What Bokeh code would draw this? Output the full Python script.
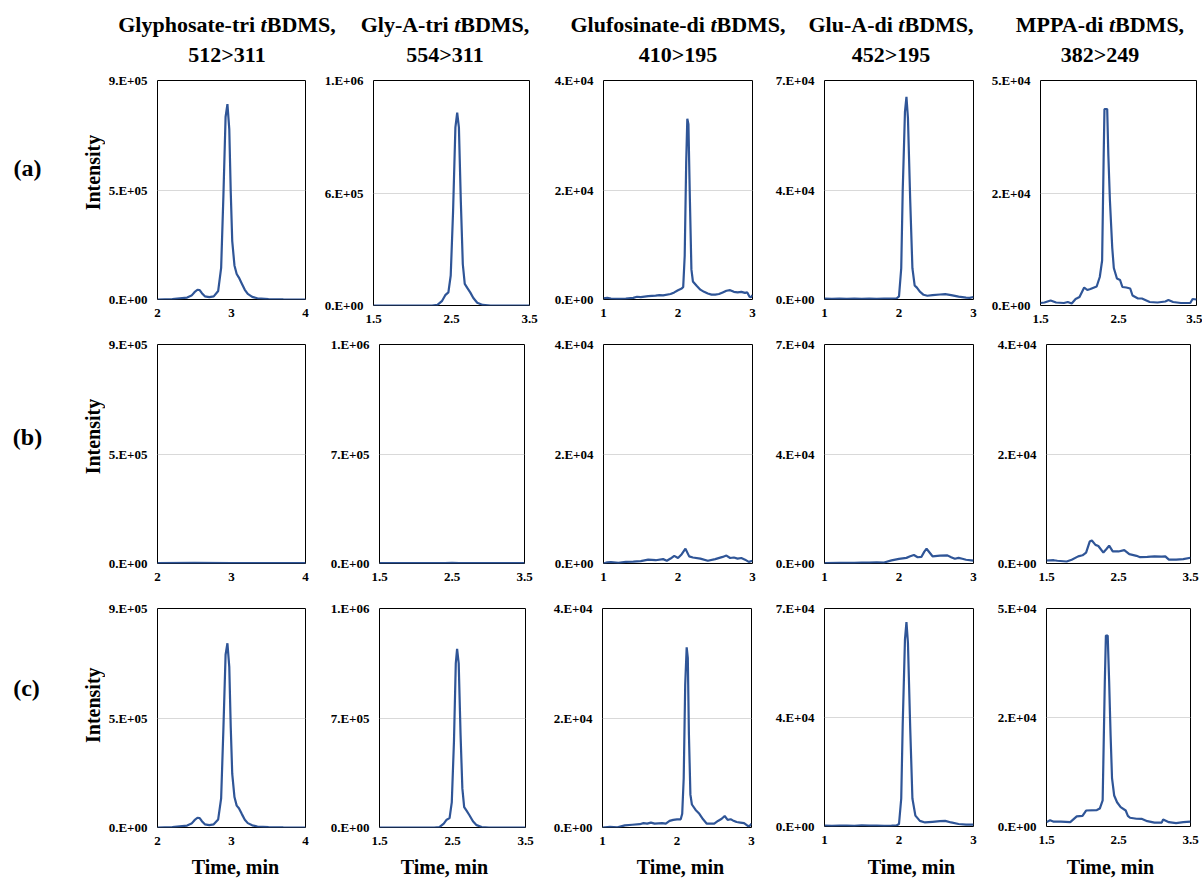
import math
from bokeh.plotting import figure
from bokeh.models import FixedTicker, Label, Div
from bokeh.layouts import column, row
from bokeh.embed import file_html
from bokeh.resources import INLINE

FONT = "Liberation Serif"
LINE = "#2f5597"

# ---------------- data ----------------
compound_names = ["Glyphosate-tri", "Gly-A-tri", "Glufosinate-di", "Glu-A-di", "MPPA-di"]
transitions = ["512>311", "554>311", "410>195", "452>195", "382>249"]
row_names = ["(a)", "(b)", "(c)"]
y_title = "Intensity"
x_title = "Time, min"
x_ticks = [[2, 3, 4], [1.5, 2.5, 3.5], [1, 2, 3], [1, 2, 3], [1.5, 2.5, 3.5]]
y_max = [[9e5, 1.2e6, 4e4, 7e4, 4.5e4],
         [9e5, 1.4e6, 4e4, 7e4, 4e4],
         [9e5, 1.4e6, 4e4, 7e4, 4.5e4]]
y_labels = [
    [["0.E+00", "5.E+05", "9.E+05"], ["0.E+00", "6.E+05", "1.E+06"], ["0.E+00", "2.E+04", "4.E+04"],
     ["0.E+00", "4.E+04", "7.E+04"], ["0.E+00", "2.E+04", "5.E+04"]],
    [["0.E+00", "5.E+05", "9.E+05"], ["0.E+00", "7.E+05", "1.E+06"], ["0.E+00", "2.E+04", "4.E+04"],
     ["0.E+00", "4.E+04", "7.E+04"], ["0.E+00", "2.E+04", "4.E+04"]],
    [["0.E+00", "5.E+05", "9.E+05"], ["0.E+00", "7.E+05", "1.E+06"], ["0.E+00", "2.E+04", "4.E+04"],
     ["0.E+00", "4.E+04", "7.E+04"], ["0.E+00", "2.E+04", "5.E+04"]],
]

# Row (a)
t_a1 = [2.0, 2.2, 2.4, 2.46, 2.5, 2.54, 2.57, 2.6, 2.64, 2.7, 2.76, 2.82, 2.86, 2.89, 2.92, 2.945, 2.97, 2.99,
        3.01, 3.04, 3.07, 3.1, 3.14, 3.18, 3.22, 3.28, 3.35, 3.5, 3.7, 4.0]
i_a1 = [0, 2e3, 8e3, 1.6e4, 3.0e4, 4.0e4, 3.9e4, 2.6e4, 1.3e4, 1.0e4, 1.3e4, 3.5e4, 1.3e5, 4.2e5, 7.5e5, 8.03e5, 7.0e5,
        4.4e5, 2.4e5, 1.4e5, 1.05e5, 9.0e4, 6.5e4, 4.0e4, 2.3e4, 1.1e4, 5e3, 1.5e3, 5e2, 0]
t_a2 = [1.5, 2.0, 2.25, 2.32, 2.38, 2.42, 2.46, 2.49, 2.52, 2.55, 2.573, 2.595, 2.62, 2.645, 2.67, 2.7, 2.74,
        2.78, 2.83, 2.9, 3.0, 3.5]
i_a2 = [0, 0, 0, 3e3, 2.5e4, 5.5e4, 7.0e4, 1.6e5, 5.0e5, 9.5e5, 1.028e6, 9.5e5, 5.5e5, 2.2e5, 1.15e5, 9.5e4, 7.0e4,
        4.0e4, 1.5e4, 3e3, 0, 0]
t_a3 = [1.0, 1.05, 1.1, 1.2, 1.3, 1.4, 1.45, 1.5, 1.6, 1.7, 1.75, 1.8, 1.9, 1.95, 2.0, 2.05, 2.07, 2.09, 2.11,
        2.125, 2.14, 2.16, 2.18, 2.2, 2.25, 2.3, 2.35, 2.4, 2.45, 2.5, 2.55, 2.6, 2.65, 2.7, 2.75, 2.8, 2.85,
        2.9, 2.93, 2.96, 2.98, 3.0]
i_a3 = [200, 300, 150, 100, 150, 300, 500, 450, 600, 700, 800, 750, 1000, 1300, 1700, 2000, 2300, 8000, 25000,
        33000, 32000, 18000, 5500, 3300, 2500, 1800, 1400, 1100, 900, 900, 1000, 1300, 1600, 1700, 1400, 1300,
        1400, 1200, 1300, 500, 400, 800]
t_a4 = [1.0, 1.1, 1.2, 1.3, 1.4, 1.5, 1.6, 1.7, 1.8, 1.9, 1.97, 2.0, 2.03, 2.05, 2.08, 2.1, 2.12, 2.15, 2.18,
        2.21, 2.24, 2.28, 2.33, 2.38, 2.45, 2.55, 2.62, 2.7, 2.8, 2.9, 2.95, 3.0]
i_a4 = [300, 200, 300, 200, 300, 200, 300, 200, 300, 300, 400, 1000, 10000, 35000, 60000, 64800, 58000, 32000,
        10000, 4500, 3800, 2500, 1500, 1200, 1400, 1600, 1700, 1400, 900, 600, 500, 800]
t_a5 = [1.5, 1.55, 1.63, 1.7, 1.8, 1.85, 1.9, 1.95, 2.0, 2.06, 2.1, 2.14, 2.22, 2.26, 2.29, 2.31, 2.32, 2.355,
        2.37, 2.39, 2.42, 2.44, 2.48, 2.52, 2.55, 2.6, 2.65, 2.68, 2.75, 2.8, 2.9, 3.0, 3.1, 3.14, 3.2, 3.3, 3.42,
        3.45, 3.5]
i_a5 = [500, 600, 1000, 600, 500, 700, 400, 1300, 1700, 3600, 3100, 3300, 3800, 5700, 9000, 30000, 39300,
        39300, 30000, 21000, 11500, 7500, 5400, 5100, 3700, 3600, 3400, 2000, 1400, 1400, 700, 600, 800, 1100, 700,
        500, 500, 1300, 1200]

# Row (b)
t_b1 = [2.0, 2.5, 3.0, 3.5, 4.0]
i_b1 = [1500, 2500, 2000, 1500, 1500]
t_b2 = [1.5, 2.0, 2.4, 2.5, 2.6, 3.0, 3.5]
i_b2 = [2000, 2000, 2500, 4000, 2500, 2000, 2000]
t_b3 = [1.0, 1.05, 1.1, 1.2, 1.3, 1.4, 1.5, 1.6, 1.7, 1.8, 1.85, 1.9, 1.95, 2.0, 2.05, 2.1, 2.15, 2.2, 2.3,
        2.4, 2.5, 2.6, 2.65, 2.7, 2.75, 2.8, 2.85, 2.9, 2.95, 3.0]
i_b3 = [0, 200, 250, 100, 300, 350, 420, 700, 600, 800, 500, 900, 1400, 1000, 1700, 2700, 1300, 1100, 900, 500,
        800, 1200, 1450, 1000, 1100, 900, 1000, 700, 300, 500]
t_b4 = [1.0, 1.2, 1.4, 1.5, 1.6, 1.7, 1.8, 1.9, 2.0, 2.1, 2.15, 2.2, 2.25, 2.3, 2.34, 2.37, 2.41, 2.45, 2.55,
        2.65, 2.7, 2.75, 2.8, 2.85, 2.9, 3.0]
i_b4 = [100, 200, 200, 300, 300, 400, 300, 1000, 1500, 1800, 2300, 2700, 2000, 2100, 3800, 4700, 3500, 2300,
        2500, 2600, 2000, 1500, 1800, 1500, 1200, 900]
t_b5 = [1.5, 1.6, 1.65, 1.78, 1.85, 1.94, 2.0, 2.05, 2.1, 2.13, 2.18, 2.22, 2.29, 2.33, 2.37, 2.42, 2.5, 2.58,
        2.65, 2.75, 2.8, 2.9, 3.0, 3.1, 3.15, 3.2, 3.3, 3.4, 3.5]
i_b5 = [550, 600, 500, 370, 700, 1300, 1500, 2000, 4000, 4200, 3400, 3200, 2000, 2600, 3250, 2200, 2200, 2450,
        1700, 1400, 1150, 1200, 1300, 1250, 1300, 700, 700, 800, 1050]

# Row (c)
t_c1 = [2.0, 2.2, 2.4, 2.46, 2.5, 2.54, 2.57, 2.6, 2.64, 2.7, 2.76, 2.82, 2.86, 2.89, 2.92, 2.945, 2.97, 2.99,
        3.01, 3.04, 3.07, 3.1, 3.14, 3.18, 3.22, 3.28, 3.35, 3.5, 3.7, 4.0]
i_c1 = [0, 2e3, 8e3, 1.6e4, 3.0e4, 4.0e4, 3.9e4, 2.6e4, 1.3e4, 1.0e4, 1.3e4, 3.3e4, 1.2e5, 4.0e5, 7.1e5, 7.57e5,
        6.6e5, 4.1e5, 2.2e5, 1.25e5, 9.0e4, 7.9e4, 5.5e4, 3.2e4, 1.8e4, 9e3, 4e3, 1.2e3, 4e2, 0]
t_c2 = [1.5, 2.0, 2.25, 2.32, 2.38, 2.42, 2.46, 2.49, 2.52, 2.545, 2.563, 2.585, 2.61, 2.635, 2.66, 2.69, 2.73,
        2.78, 2.83, 2.9, 3.0, 3.5]
i_c2 = [0, 0, 0, 3e3, 2.5e4, 5.0e4, 6.0e4, 1.6e5, 5.5e5, 1.05e6, 1.142e6, 1.05e6, 6.0e5, 2.5e5, 1.3e5, 1.09e5,
        8.0e4, 4.0e4, 1.5e4, 3e3, 0, 0]
t_c3 = [1.0, 1.1, 1.2, 1.3, 1.4, 1.5, 1.55, 1.6, 1.65, 1.7, 1.8, 1.85, 1.9, 1.95, 2.0, 2.05, 2.07, 2.09, 2.11,
        2.13, 2.145, 2.16, 2.18, 2.2, 2.25, 2.3, 2.35, 2.4, 2.5, 2.55, 2.6, 2.64, 2.68, 2.72, 2.75, 2.8, 2.85,
        2.9, 2.95, 2.97, 3.0]
i_c3 = [0, 100, 50, 400, 500, 600, 800, 700, 900, 700, 800, 700, 1200, 1400, 1500, 1500, 2500, 9000, 26000,
        32900, 31000, 17000, 6000, 4200, 3200, 2500, 1500, 700, 700, 1200, 1600, 2100, 1400, 1500, 1300, 1000,
        900, 800, 300, 200, 700]
t_c4 = [1.0, 1.1, 1.2, 1.3, 1.4, 1.5, 1.6, 1.7, 1.8, 1.9, 1.97, 2.0, 2.03, 2.05, 2.08, 2.1, 2.12, 2.15, 2.18,
        2.22, 2.28, 2.35, 2.45, 2.55, 2.62, 2.7, 2.8, 2.9, 3.0]
i_c4 = [300, 200, 300, 300, 200, 400, 300, 300, 200, 300, 400, 800, 9000, 33000, 60000, 65600, 59000, 32000,
        9000, 3500, 1800, 1300, 1500, 1700, 1800, 1300, 800, 600, 600]
t_c5 = [1.5, 1.55, 1.6, 1.7, 1.83, 1.92, 2.0, 2.05, 2.2, 2.24, 2.28, 2.31, 2.325, 2.35, 2.37, 2.39, 2.41, 2.44,
        2.48, 2.53, 2.6, 2.63, 2.66, 2.75, 2.82, 2.9, 3.0, 3.1, 3.12, 3.2, 3.3, 3.4, 3.5]
i_c5 = [900, 1300, 1000, 1000, 900, 2100, 2200, 3300, 3400, 3700, 5400, 30000, 39400, 39400, 30000, 19000,
        10000, 6400, 5000, 4000, 3300, 2200, 1800, 1600, 1580, 1100, 800, 800, 1450, 900, 700, 900, 1000]

series = [[(t_a1, i_a1), (t_a2, i_a2), (t_a3, i_a3), (t_a4, i_a4), (t_a5, i_a5)],
          [(t_b1, i_b1), (t_b2, i_b2), (t_b3, i_b3), (t_b4, i_b4), (t_b5, i_b5)],
          [(t_c1, i_c1), (t_c2, i_c2), (t_c3, i_c3), (t_c4, i_c4), (t_c5, i_c5)]]

# ---------------- layout geometry (pixels) ----------------
STRIP_W = 105
TITLE_H = 68
ROW_H = [264, 264, 257]
BOTTOM_H = 28
h_geom = [
    [(50, 150, 15), (53, 156, 21), (53, 149, 18), (54, 149, 12), (55, 156, 6)],
    [(50, 150, 15), (59, 145, 26), (53, 149, 18), (54, 149, 12), (61, 144, 12)],
    [(50, 150, 15), (59, 146, 25), (52, 149, 19), (54, 149, 12), (61, 144, 12)],
]
v_geom = [
    [(12, 219, 33), (12, 225, 27), (12, 219, 33), (12, 219, 33), (12, 225, 27)],
    [(12, 219, 33)] * 5,
    [(12, 219, 26), (12, 219, 26), (12, 219, 26), (12, 218, 27), (12, 218, 27)],
]
# label positions inside strips (x from left, y from bottom)
row_label_xy = [(27, 159), (27, 153), (26, 163)]
intensity_xy = [(92, 153), (92, 153), (92, 143)]
time_label_x = [235, 444, 680, 911, 1110]
time_label_y = 15
title_centers = [227, 445, 678, 891, 1100]


def blank_strip(w, h):
    s = figure(width=w, height=h, x_range=(0, w), y_range=(0, h), output_backend="svg",
               toolbar_location=None, min_border=0, min_border_left=0, min_border_right=0,
               min_border_top=0, min_border_bottom=0, x_axis_type=None, y_axis_type=None)
    s.outline_line_color = None
    s.grid.visible = False
    s.background_fill_color = "white"
    s.border_fill_color = "white"
    return s


def make_panel(r, c):
    t, y = series[r][c]
    left, fw, right = h_geom[r][c]
    top, fh, bottom = v_geom[r][c]
    xt = x_ticks[c]
    ym = y_max[r][c]
    yt = [0.0, ym / 2.0, ym]
    p = figure(width=left + fw + right, height=top + fh + bottom,
               x_range=(xt[0], xt[-1]), y_range=(0, ym),
               output_backend="svg", toolbar_location=None,
               min_border_left=left, min_border_right=right,
               min_border_top=top, min_border_bottom=bottom)
    if "frame_align" in p.properties():
        p.frame_align = False
    p.background_fill_color = "white"
    p.border_fill_color = "white"
    p.outline_line_color = "black"
    p.outline_line_width = 1
    p.xgrid.visible = False
    p.ygrid.ticker = FixedTicker(ticks=yt)
    p.ygrid.grid_line_color = "#d9d9d9"
    p.ygrid.grid_line_width = 1
    p.xaxis.ticker = FixedTicker(ticks=xt)
    p.yaxis.ticker = FixedTicker(ticks=yt)
    p.yaxis.major_label_overrides = {v: lab for v, lab in zip(yt, y_labels[r][c])}
    for ax in (p.xaxis[0], p.yaxis[0]):
        ax.axis_line_color = None
        ax.major_tick_line_color = None
        ax.minor_tick_line_color = None
        ax.major_tick_out = 0
        ax.major_tick_in = 0
        ax.major_label_text_font = FONT
        ax.major_label_text_font_style = "bold"
        ax.major_label_text_font_size = "13px"
        ax.major_label_text_color = "black"
    p.xaxis.major_label_standoff = 9
    p.yaxis.major_label_standoff = 10
    p.line(t, y, line_color=LINE, line_width=2.2)
    return p


def left_strip(r):
    s = blank_strip(STRIP_W, ROW_H[r])
    lx, ly = row_label_xy[r]
    s.add_layout(Label(x=lx, y=ly, text=row_names[r], text_align="center", text_baseline="middle",
                       text_font=FONT, text_font_style="bold", text_font_size="24px", text_color="black"))
    ix, iy = intensity_xy[r]
    s.add_layout(Label(x=ix, y=iy, text=y_title, angle=math.pi / 2, text_align="center",
                       text_baseline="middle", text_font=FONT, text_font_style="bold",
                       text_font_size="20px", text_color="black"))
    return s


total_w = STRIP_W + sum(l + f + rr for (l, f, rr) in h_geom[0])
bottom = blank_strip(total_w, BOTTOM_H)
for xc in time_label_x:
    bottom.add_layout(Label(x=xc, y=time_label_y, text=x_title, text_align="center", text_baseline="middle",
                            text_font=FONT, text_font_style="bold", text_font_size="20px",
                            text_color="black"))

inner = []
for c in range(5):
    inner.append(
        '<div style="position:absolute;top:10px;left:%dpx;width:300px;text-align:center;line-height:30px;">'
        '%s <i>t</i>BDMS,<br>%s</div>' % (title_centers[c] - 150, compound_names[c],
                                         transitions[c].replace(">", "&gt;")))
html = ('<div style="position:relative;width:%dpx;height:%dpx;font-family:\'Liberation Serif\';'
        'font-weight:bold;font-size:22px;color:black;">' % (total_w, TITLE_H) + "".join(inner) + '</div>')
title_div = Div(text=html, width=total_w, height=TITLE_H, margin=(0, 0, 0, 0))

rows = [row(left_strip(r), *[make_panel(r, c) for c in range(5)], spacing=0) for r in range(3)]
layout = column(title_div, *rows, bottom, spacing=0)

open("out.html", "w").write(file_html(layout, INLINE))
